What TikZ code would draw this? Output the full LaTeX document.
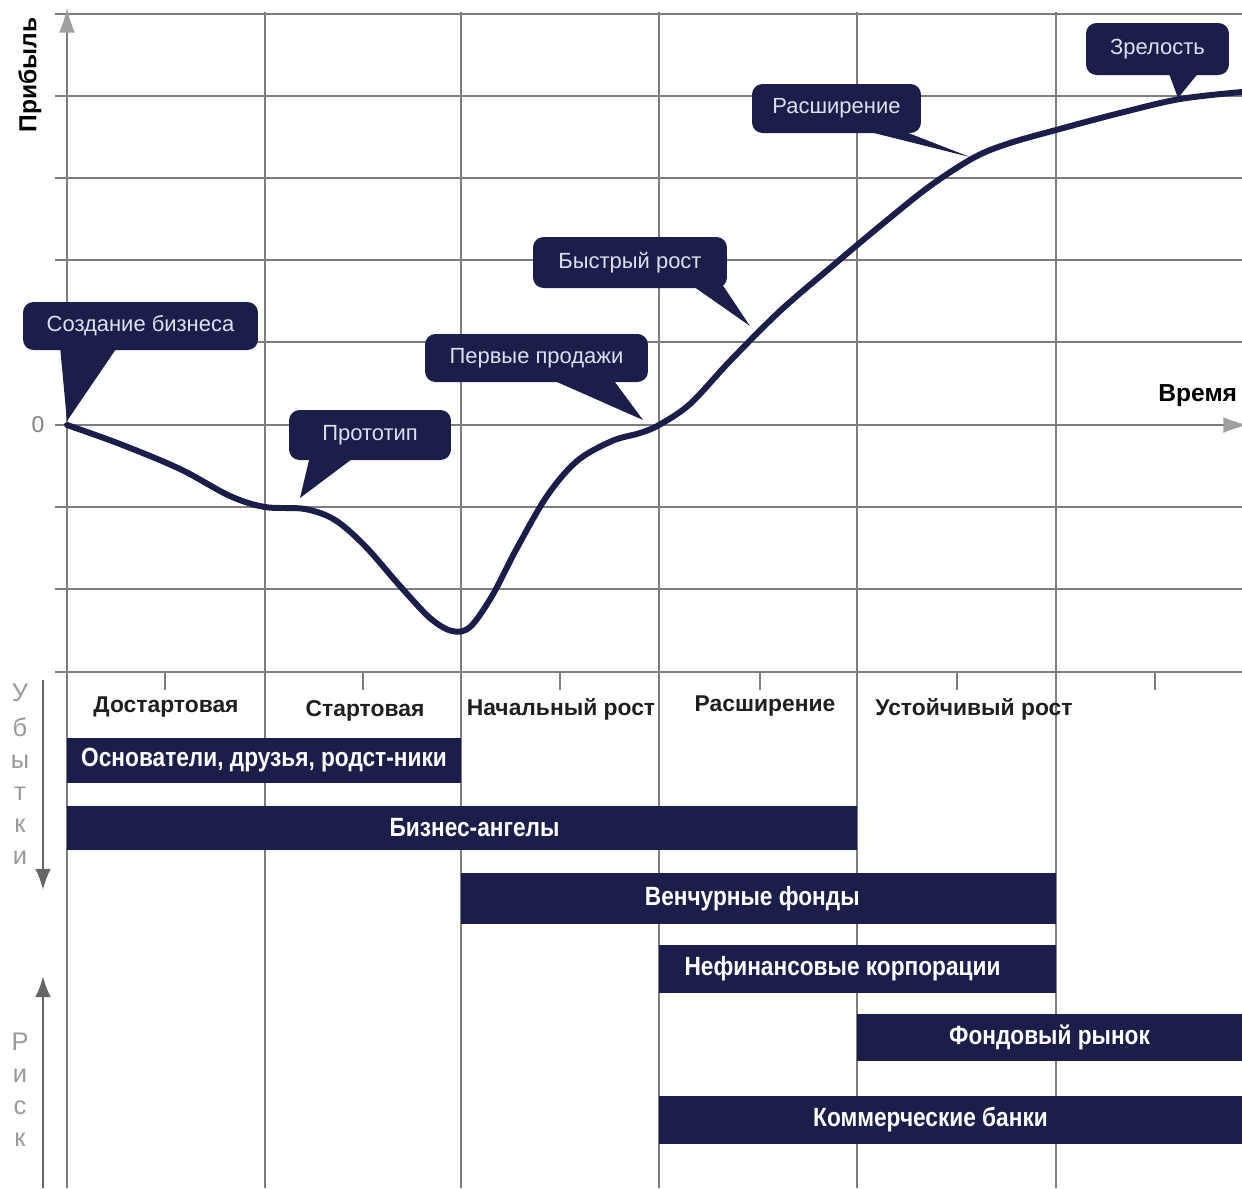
\documentclass[tikz,border=0pt]{standalone}
\usepackage{fontspec}
\setmainfont{Liberation Sans}
\newfontfamily\barfont{Liberation Sans}[FakeStretch=0.86]
\usetikzlibrary{arrows.meta,calc}
\definecolor{navy}{RGB}{28,30,74}
\definecolor{gridc}{RGB}{125,125,125}
\definecolor{calltext}{RGB}{222,224,242}
\definecolor{lightax}{RGB}{160,160,160}
\begin{document}
\begin{tikzpicture}[x=0.02cm,y=-0.02cm,
  gridline/.style={gridc, line width=0.8pt},
  callbox/.style={fill=navy, rounded corners=6pt, text=calltext, inner sep=0pt,
    font=\fontsize{12.5}{14}\selectfont},
  pointer/.style={fill=navy},
  barbox/.style={fill=navy, text=white, inner sep=0pt,
    font=\barfont\bfseries\fontsize{15}{16}\selectfont},
  stagelbl/.style={text=black!88, inner sep=0pt, font=\bfseries\fontsize{13}{15}\selectfont},
  sideletter/.style={text=black!40, inner sep=0pt, font=\fontsize{14.5}{16}\selectfont},
  curve/.style={navy, line width=3.4pt, line cap=round, line join=round}
]
\useasboundingbox (0,0) rectangle (1242,1188);
\fill[white] (0,0) rectangle (1242,1188);

% horizontal grid
\foreach \yy in {14,96,178,260,342,507,589,672}
  \draw[gridline] (55,\yy) -- (1242,\yy);
% vertical grid
\foreach \xx in {265,461,659,857,1056}
  \draw[gridline] (\xx,12) -- (\xx,1188);
\draw[gridline] (67,672) -- (67,1188);
% ticks
\foreach \xx in {165,363,560,760,957,1155}
  \draw[gridline] (\xx,672) -- (\xx,690);

% axes
\coordinate (ybot) at (67,672);
\coordinate (ytop) at (67,8);
\coordinate (xleft) at (55,425);
\coordinate (xright) at (1248,425);
\draw[gridline, -{Latex[length=14pt,width=9pt,color=lightax]}] (ybot) -- (ytop);
\draw[gridline, -{Latex[length=14pt,width=9pt,color=lightax]}] (xleft) -- (xright);

\node[font=\bfseries\fontsize{14}{16}\selectfont, rotate=90, inner sep=0pt] (ylab) at (30,75) {Прибыль};
\node[text=black!50, font=\fontsize{13}{15}\selectfont, inner sep=0pt] (zero) at (38,425) {0};
\node[font=\bfseries\fontsize{14}{16}\selectfont, inner sep=0pt, anchor=west] (xlab) at (1158,396) {Время};

% curve
\draw[curve] plot[smooth, tension=0.55] coordinates {
 (67,425) (120,444) (180,469) (230,496) (265,507) (305,509) (335,520) (365,546)
 (400,586) (430,618) (452,631) (470,627) (492,596) (517,548) (547,496) (577,461)
 (612,441) (640,433) (659,425) (690,404) (730,361) (780,311) (830,268) (880,226)
 (930,186) (975,157) (1010,143) (1056,130) (1120,113) (1180,99) (1242,92)};

% callouts
\node[callbox, minimum width=4.7cm, minimum height=0.96cm] (c1) at (140.5,326) {Создание бизнеса};
\fill[pointer] (60,346) -- (67,421) -- (118,346) -- cycle;
\node[callbox, minimum width=3.24cm, minimum height=1.0cm] (c2) at (370,435) {Прототип};
\fill[pointer] (310,456) -- (300,498) -- (356,456) -- cycle;
\node[callbox, minimum width=4.46cm, minimum height=0.96cm] (c3) at (536.5,358) {Первые продажи};
\fill[pointer] (548,378) -- (643,420) -- (612,378) -- cycle;
\node[callbox, minimum width=3.88cm, minimum height=1.02cm] (c4) at (630,262.5) {Быстрый рост};
\fill[pointer] (690,284) -- (750,326) -- (722,284) -- cycle;
\node[callbox, minimum width=3.38cm, minimum height=0.98cm] (c5) at (836.5,108.5) {Расширение};
\fill[pointer] (858,129) -- (970,157) -- (898,129) -- cycle;
\node[callbox, minimum width=2.86cm, minimum height=1.04cm] (c6) at (1157.5,49) {Зрелость};
\fill[pointer] (1168,71) -- (1178,98) -- (1200,71) -- cycle;

% stage labels
\node[stagelbl] (s1) at (166,707) {Достартовая};
\node[stagelbl] (s2) at (365,711) {Стартовая};
\node[stagelbl] (s3) at (561,709) {Начальный рост};
\node[stagelbl] (s4) at (765,706) {Расширение};
\node[stagelbl] (s5) at (974,709) {Устойчивый рост};

% bars
\node[barbox, minimum width=7.88cm, minimum height=0.9cm] (b1) at (264,760.5) {Основатели, друзья, родст-ники};
\node[barbox, minimum width=15.8cm, minimum height=0.88cm] (b2) at (462,828) {\hspace*{0.5cm}Бизнес-ангелы};
\node[barbox, minimum width=11.9cm, minimum height=1.02cm] (b3) at (758.5,898.5) {Венчурные фонды\hspace*{0.25cm}};
\node[barbox, minimum width=7.94cm, minimum height=0.96cm] (b4) at (857.5,969) {Нефинансовые корпорации\hspace*{0.6cm}};
\node[barbox, minimum width=7.7cm, minimum height=0.94cm] (b5) at (1049.5,1037.5) {Фондовый рынок};
\node[barbox, minimum width=11.66cm, minimum height=0.96cm] (b6) at (950.5,1120) {Коммерческие банки\hspace*{0.8cm}};

% side labels
\coordinate (la1) at (43,680);
\coordinate (la2) at (43,890);
\coordinate (ra1) at (43,1188);
\coordinate (ra2) at (43,976);
\draw[black!60, line width=1.6pt, -{Latex[length=12pt,width=9pt]}] (la1) -- (la2);
\draw[black!60, line width=1.6pt, -{Latex[length=12pt,width=9pt]}] (ra1) -- (ra2);
\node[sideletter] (u1) at (20,693) {У};
\node[sideletter] (u2) at (20,727) {б};
\node[sideletter] (u3) at (20,762) {ы};
\node[sideletter] (u4) at (20,794) {т};
\node[sideletter] (u5) at (20,826) {к};
\node[sideletter] (u6) at (20,858) {и};
\node[sideletter] (r1) at (20,1042) {Р};
\node[sideletter] (r2) at (20,1076) {и};
\node[sideletter] (r3) at (20,1108) {с};
\node[sideletter] (r4) at (20,1140) {к};
\end{tikzpicture}
\end{document}
